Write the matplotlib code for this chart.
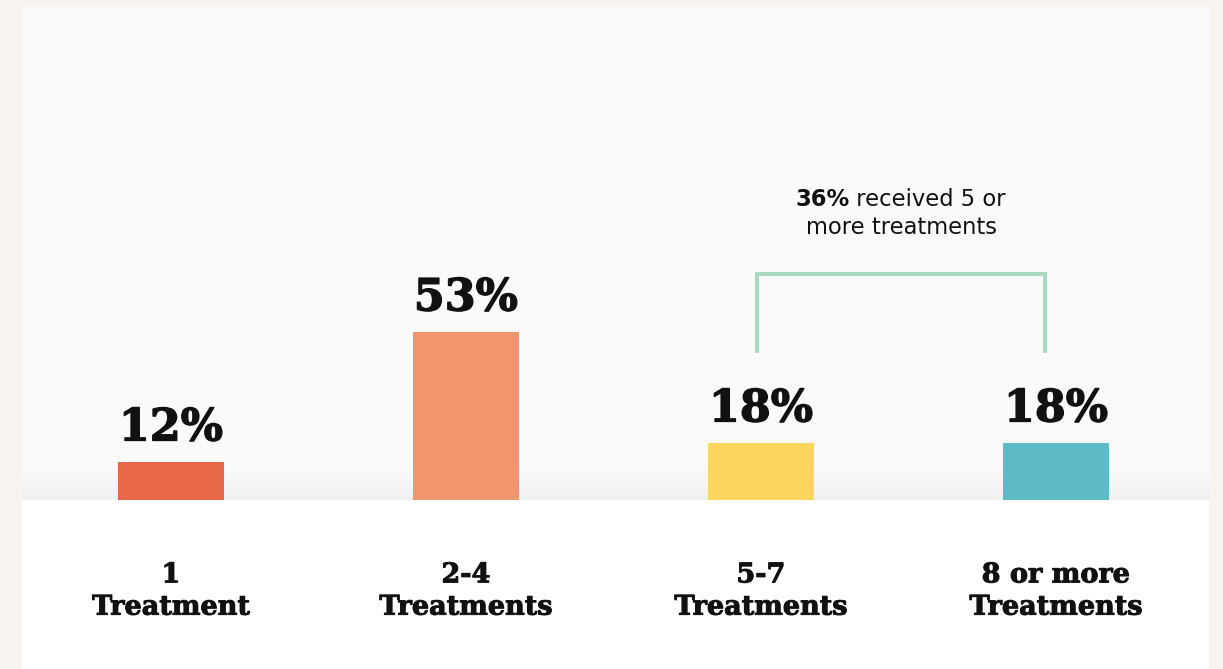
import matplotlib
matplotlib.use("Agg")
import matplotlib.pyplot as plt
import numpy as np
from matplotlib.patches import Rectangle
import matplotlib.transforms as mtrans
import matplotlib.patheffects as pe

categories = ["1\nTreatment", "2-4\nTreatments", "5-7\nTreatments", "8 or more\nTreatments"]
values = [12, 53, 18, 18]
value_labels = ["12%", "53%", "18%", "18%"]
colors = ["#e8694a", "#f0956e", "#fcd65e", "#5fbac8"]

W, H = 1223, 669
fig = plt.figure(figsize=(W / 100, H / 100), dpi=100, facecolor="#f7f3ee")

def fx(px):
    return px / W

def fy(py):
    return 1 - py / H

# white lower band
fig.patches.append(Rectangle((fx(22), 0), fx(1209) - fx(22), fy(500), transform=fig.transFigure,
                             facecolor="white", edgecolor="none", zorder=-1))

# main panel
ax = fig.add_axes([fx(22), fy(500), fx(1210) - fx(22), fy(7) - fy(500)])
ax.set_facecolor("#fafafa")
ppu_x = 295.0
ppu_y = 168 / 53.0
xlim = ((22 - 171) / ppu_x, (1210 - 171) / ppu_x)
ax.set_xlim(*xlim)
for s in ax.spines.values():
    s.set_visible(False)
ax.set_xticks([])
ax.set_yticks([])

# subtle shadow gradient near bottom
grad = np.linspace(0, 1, 100).reshape(-1, 1)
ax.imshow(grad, extent=(xlim[0], xlim[1], 0, 32 / ppu_y),
          cmap=matplotlib.colors.LinearSegmentedColormap.from_list("g", ["#fafafa", "#f0f0f0"]),
          aspect="auto", origin="upper", zorder=0.5)
ax.set_xlim(*xlim)
ax.set_ylim(0, 493 / ppu_y)

x = np.arange(len(values))
ax.bar(x, values, width=106 / ppu_x, color=colors, zorder=2)

heavy = [pe.withStroke(linewidth=1.0, foreground="#111111")]
for xi, v, lab in zip(x, values, value_labels):
    ax.annotate(lab, (xi, v), xytext=(0, 9), textcoords="offset points",
                ha="center", va="bottom", fontsize=32, fontweight="bold",
                family="DejaVu Serif", color="#111111", path_effects=heavy)

# category labels
trans = mtrans.blended_transform_factory(ax.transData, fig.transFigure)
for xi, cat in zip(x, categories):
    ax.text(xi, fy(591), cat, transform=trans, ha="center", va="center",
            fontsize=19.5, fontweight="bold", family="DejaVu Serif",
            linespacing=1.25, color="#111111", clip_on=False, zorder=5,
            path_effects=[pe.withStroke(linewidth=0.7, foreground="#111111")])

# bracket
bx0 = (757 - 171) / ppu_x
bx1 = (1045 - 171) / ppu_x
by0 = (500 - 351) / ppu_y
by1 = (500 - 274) / ppu_y
ax.plot([bx0, bx0, bx1, bx1], [by0, by1, by1, by0], color="#a9d9c1", lw=2.8,
        solid_joinstyle="miter", zorder=3)

# annotation
t1 = ax.text((795 - 171) / ppu_x, (500 - 206) / ppu_y, "36%", ha="left", va="baseline",
             fontsize=16.3, fontweight="bold", family="DejaVu Sans", color="#111111")
ax.annotate(" received 5 or", xy=(1, 0), xycoords=t1, ha="left", va="bottom",
            fontsize=16.3, family="DejaVu Sans", color="#111111")
ax.text((902 - 171) / ppu_x, (500 - 234) / ppu_y, "more treatments", ha="center", va="baseline",
        fontsize=16.3, family="DejaVu Sans", color="#111111")

fig.savefig("out.png", dpi=100, facecolor=fig.get_facecolor())
